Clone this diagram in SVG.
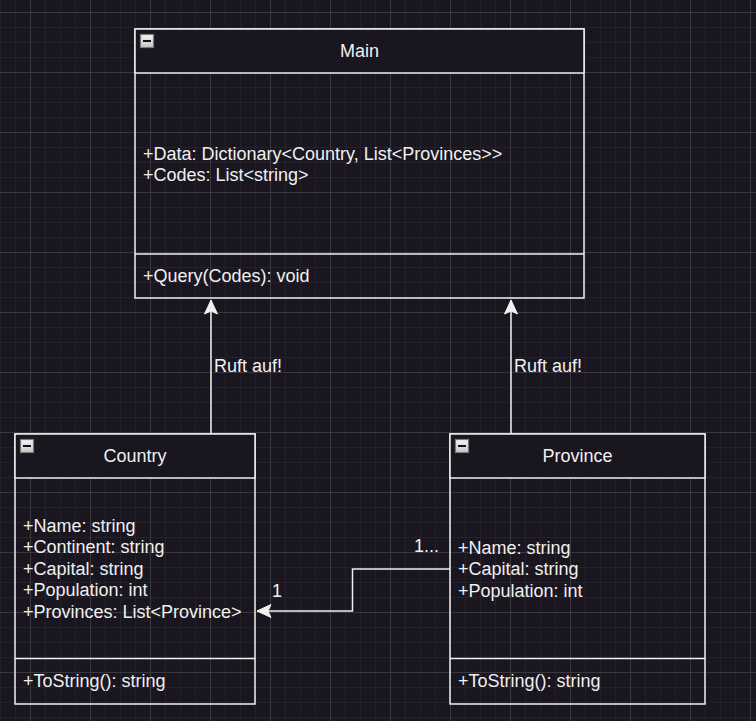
<svg xmlns="http://www.w3.org/2000/svg" width="756" height="721" viewBox="0 0 756 721">
<defs>
<pattern id="grid" x="30" y="12" width="60" height="60" patternUnits="userSpaceOnUse">
<path d="M15.5,0V60M30.5,0V60M45.5,0V60M0,15.5H60M0,30.5H60M0,45.5H60" stroke="#24212a" stroke-width="1" fill="none"/>
<path d="M0.5,0V60M0,0.5H60" stroke="#3a373e" stroke-width="1" fill="none"/>
</pattern>
<linearGradient id="ig" x1="0" y1="0" x2="0" y2="1">
<stop offset="0" stop-color="#f4f4f4"/>
<stop offset="1" stop-color="#c8c8c8"/>
</linearGradient>
<marker id="arr" viewBox="-15 -8 16 16" refX="0" refY="0" markerWidth="16" markerHeight="16" markerUnits="userSpaceOnUse" orient="auto">
<path d="M0,0L-14,-6.5L-11,0L-14,6.5Z" fill="#f0f0f0" stroke="#f0f0f0" stroke-width="1"/>
</marker>
<g id="icon">
<rect x="0.5" y="0.5" width="13" height="13" fill="url(#ig)" stroke="#7a7a7a" stroke-width="1.2"/>
<rect x="3" y="6" width="8" height="2" fill="#111"/>
</g>
</defs>
<style>
.box{fill:none;stroke:#f0f0f0;stroke-width:1.5}
.hdr{fill:#19161f;stroke:#f0f0f0;stroke-width:1.5}
.sep{stroke:#f0f0f0;stroke-width:1.5}
.t{font-family:"Liberation Sans",Arial,sans-serif;font-size:18px;fill:#f0f0f0}
.c{text-anchor:middle}
.edge{fill:none;stroke:#f0f0f0;stroke-width:1.5}
</style>
<rect width="756" height="721" fill="#19161f"/>
<rect width="756" height="721" fill="url(#grid)"/>

<g id="connectors">
<path class="edge" d="M211,434V300" marker-end="url(#arr)"/>
<path class="edge" d="M511,434V300" marker-end="url(#arr)"/>
<path class="edge" d="M450,569H352.5V611H257" marker-end="url(#arr)"/>
<text class="t" x="214" y="372">Ruft auf!</text>
<text class="t" x="514" y="372">Ruft auf!</text>
<text class="t" x="414" y="552">1...</text>
<text class="t" x="272" y="597">1</text>
</g>

<g id="main">
<rect class="box" x="135" y="29" width="449" height="269"/>
<rect class="hdr" x="135" y="29" width="449" height="44"/>
<use href="#icon" x="140" y="34"/>
<text class="t c" x="359.5" y="57">Main</text>
<text class="t" x="143" y="159.5">+Data: Dictionary&lt;Country, List&lt;Provinces&gt;&gt;</text>
<text class="t" x="143" y="181">+Codes: List&lt;string&gt;</text>
<line class="sep" x1="135" y1="254" x2="584" y2="254"/>
<text class="t" x="143" y="282">+Query(Codes): void</text>
</g>

<g id="country">
<rect class="box" x="15" y="434" width="240" height="270"/>
<rect class="hdr" x="15" y="434" width="240" height="44"/>
<use href="#icon" x="20" y="439"/>
<text class="t c" x="135" y="462">Country</text>
<text class="t" x="23" y="532">+Name: string</text>
<text class="t" x="23" y="553.4">+Continent: string</text>
<text class="t" x="23" y="574.8">+Capital: string</text>
<text class="t" x="23" y="596.2">+Population: int</text>
<text class="t" x="23" y="617.6">+Provinces: List&lt;Province&gt;</text>
<line class="sep" x1="15" y1="658.5" x2="255" y2="658.5"/>
<text class="t" x="23" y="687">+ToString(): string</text>
</g>

<g id="province">
<rect class="box" x="450" y="434" width="255" height="270"/>
<rect class="hdr" x="450" y="434" width="255" height="44"/>
<use href="#icon" x="455" y="439"/>
<text class="t c" x="577.5" y="462">Province</text>
<text class="t" x="458" y="554">+Name: string</text>
<text class="t" x="458" y="575.4">+Capital: string</text>
<text class="t" x="458" y="596.8">+Population: int</text>
<line class="sep" x1="450" y1="658.5" x2="705" y2="658.5"/>
<text class="t" x="458" y="687">+ToString(): string</text>
</g>
</svg>
